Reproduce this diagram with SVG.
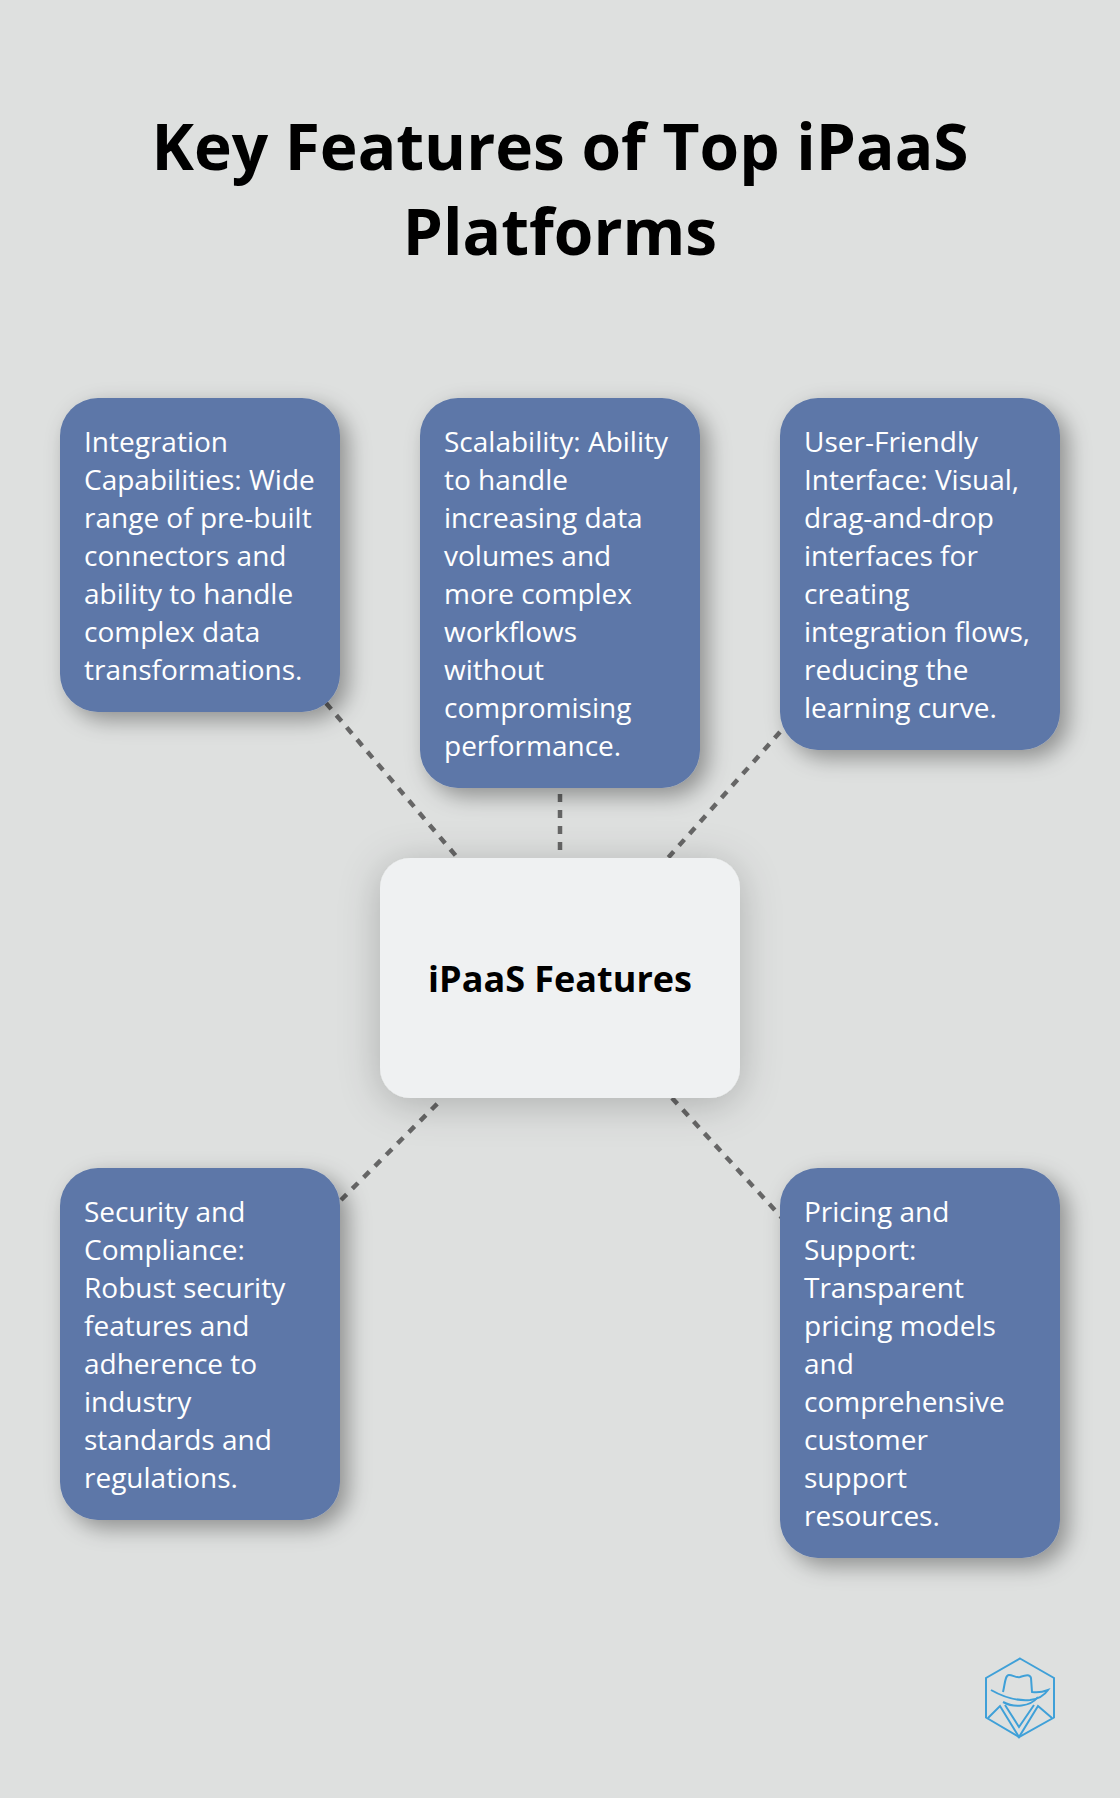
<svg xmlns="http://www.w3.org/2000/svg" width="1120" height="1798" viewBox="0 0 1120 1798">
<defs>
<filter id="s1" x="-20%" y="-20%" width="150%" height="150%"><feDropShadow dx="8" dy="8" stdDeviation="11" flood-color="#000" flood-opacity="0.36"/></filter>
<filter id="s2" x="-20%" y="-30%" width="140%" height="160%"><feDropShadow dx="0" dy="6" stdDeviation="20" flood-color="#000" flood-opacity="0.22"/></filter>
</defs>
<style>
text{font-family:"Open Sans","Noto Sans","Liberation Sans",sans-serif}
.t{font-size:64px;font-weight:700;fill:#000;text-anchor:middle}
.b{fill:#5D77A8;filter:url(#s1)}
.l{font-size:28px;fill:#fff}
.c{stroke:#666;stroke-width:4.500;stroke-dasharray:8 8;fill:none}
.h{fill:none;stroke:#3FA0D8;stroke-width:2}
</style>
<rect width="1120" height="1798" fill="#DEE0DF"/>
<text class="t" x="560" y="170">Key Features of Top iPaaS</text>
<text class="t" x="560" y="255">Platforms</text>
<g id="connectors">
<path class="c" d="M326 703L456 856"/>
<path class="c" d="M560 794V858"/>
<path class="c" d="M780 732L668 858"/>
<path class="c" d="M341 1200L441 1100"/>
<path class="c" d="M672 1098L784 1220"/>
</g>
<g id="n1"><rect class="b" x="60" y="398" width="280" height="314" rx="38"/>
<text class="l"><tspan x="84" y="452">Integration</tspan><tspan x="84" y="490">Capabilities: Wide</tspan><tspan x="84" y="528">range of pre-built</tspan><tspan x="84" y="566">connectors and</tspan><tspan x="84" y="604">ability to handle</tspan><tspan x="84" y="642">complex data</tspan><tspan x="84" y="680">transformations.</tspan></text></g>
<g id="n2"><rect class="b" x="420" y="398" width="280" height="390" rx="38"/>
<text class="l"><tspan x="444" y="452">Scalability: Ability</tspan><tspan x="444" y="490">to handle</tspan><tspan x="444" y="528">increasing data</tspan><tspan x="444" y="566">volumes and</tspan><tspan x="444" y="604">more complex</tspan><tspan x="444" y="642">workflows</tspan><tspan x="444" y="680">without</tspan><tspan x="444" y="718">compromising</tspan><tspan x="444" y="756">performance.</tspan></text></g>
<g id="n3"><rect class="b" x="780" y="398" width="280" height="352" rx="38"/>
<text class="l"><tspan x="804" y="452">User-Friendly</tspan><tspan x="804" y="490">Interface: Visual,</tspan><tspan x="804" y="528">drag-and-drop</tspan><tspan x="804" y="566">interfaces for</tspan><tspan x="804" y="604">creating</tspan><tspan x="804" y="642">integration flows,</tspan><tspan x="804" y="680">reducing the</tspan><tspan x="804" y="718">learning curve.</tspan></text></g>
<g id="center"><rect x="380" y="858" width="360" height="240" rx="30" fill="#EFF1F2" filter="url(#s2)"/>
<text x="560" y="992" font-size="36" font-weight="700" fill="#000" text-anchor="middle">iPaaS Features</text></g>
<g id="n4"><rect class="b" x="60" y="1168" width="280" height="352" rx="38"/>
<text class="l"><tspan x="84" y="1222">Security and</tspan><tspan x="84" y="1260">Compliance:</tspan><tspan x="84" y="1298">Robust security</tspan><tspan x="84" y="1336">features and</tspan><tspan x="84" y="1374">adherence to</tspan><tspan x="84" y="1412">industry</tspan><tspan x="84" y="1450">standards and</tspan><tspan x="84" y="1488">regulations.</tspan></text></g>
<g id="n5"><rect class="b" x="780" y="1168" width="280" height="390" rx="38"/>
<text class="l"><tspan x="804" y="1222">Pricing and</tspan><tspan x="804" y="1260">Support:</tspan><tspan x="804" y="1298">Transparent</tspan><tspan x="804" y="1336">pricing models</tspan><tspan x="804" y="1374">and</tspan><tspan x="804" y="1412">comprehensive</tspan><tspan x="804" y="1450">customer</tspan><tspan x="804" y="1488">support</tspan><tspan x="804" y="1526">resources.</tspan></text></g>
<g id="logo">
<path class="h" d="M1020 1658.500L1054 1678V1717.500L1019 1737L986 1717.500V1678Z"/>
<path class="h" stroke-width="1.500" d="M1003 1692C1005 1684 1005 1675 1009 1675C1013 1675 1016 1678 1020 1677C1026 1675 1030 1674 1031 1678L1032 1692C1038 1693 1043 1692 1048 1690C1044 1696 1038 1699 1030 1700C1018 1701 1005 1698 991 1690"/>
<path class="h" stroke-width="1.500" d="M1003 1702C1014 1708 1030 1707 1038 1697"/>
<path class="h" stroke-width="1.500" d="M988 1718L1000 1706L1019 1737L1038 1706L1052 1718M1005 1705L1019 1727L1034 1705"/>
</g>
</svg>
